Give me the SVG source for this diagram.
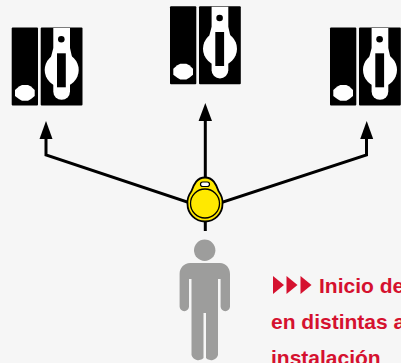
<svg xmlns="http://www.w3.org/2000/svg" width="401" height="363" viewBox="0 0 401 363">
<style>
.k{fill:#000}.w{fill:#fff}
.c{fill:none;stroke:#000;stroke-width:3}
.t{font-family:"Liberation Sans",Arial,sans-serif;font-weight:700;font-size:21px;fill:#d5112f}
.r{fill:#d5112f}
</style>
<defs>
<g id="lock">
<rect class="k" x="11.700" y="27.500" width="26.300" height="78" rx="1"/>
<rect class="k" x="40.700" y="27.500" width="41.800" height="78" rx="1"/>
<path class="w" d="M53.300 28H70V48L72 57H51L53.300 48Z"/>
<circle class="w" cx="61.700" cy="70" r="17"/>
<path class="w" d="M53.300 80H70V91.500A8.350 8.350 0 0 1 53.300 91.500Z"/>
<circle class="k" cx="61.300" cy="39.300" r="3.300"/>
<rect class="k" x="57" y="53.300" width="8.800" height="34"/>
<path class="w" d="M19 86.500L22 85H28L31 86.500L34.700 90V96L31 99L28 100.700H22L19 99L15 96V90Z"/>
</g>
</defs>
<rect width="401" height="363" fill="#f6f6f6"/>
<g id="lock-left"><use href="#lock"/></g>
<g id="lock-center"><use href="#lock" x="158.300" y="-21.300"/></g>
<g id="lock-right"><use href="#lock" x="318.300"/></g>
<g id="connectors">
<path class="c" d="M46 136V155L205 208L366.500 155V136"/>
<path class="c" d="M205.300 118V231"/>
<path class="k" d="M46 121L52.500 139H39.500Z"/>
<path class="k" d="M205.300 103L212 121H198.600Z"/>
<path class="k" d="M366.700 121L373.200 139H360.200Z"/>
</g>
<g id="key">
<path d="M205 177.500C197 177.500 194 184 191.500 191C188 196 187 200 187.500 204A17.500 17.500 0 0 0 222.500 204C223 200 222 196 218.500 191C216 184 213 177.500 205 177.500Z" fill="#ffe900" stroke="#000" stroke-width="1.800"/>
<circle cx="205" cy="203.500" r="14.500" fill="#ffe900" stroke="#000" stroke-width="1.300"/>
<rect x="200.500" y="182" width="9" height="4.500" rx="2.200" fill="#fff" stroke="#000" stroke-width="1.200"/>
</g>
<g id="person" fill="#9d9d9c">
<circle cx="204.700" cy="250.300" r="10.700"/>
<path d="M190 263H220C226 263 230 268 230 274V306.500A4.700 4.700 0 0 1 220.600 306.500V279H218V355A7.200 7.200 0 0 1 206 358V313H203.500V358A7.200 7.200 0 0 1 191.500 355V279H189V306.500A4.700 4.700 0 0 1 179.600 306.500V274C179.600 268 184 263 190 263Z"/>
</g>
<g id="note">
<path class="r" d="M273 276L284 285L273 294Z"/><path class="r" d="M286.500 276L297.500 285L286.500 294Z"/><path class="r" d="M300.500 276L311.500 285L300.500 294Z"/>
<text class="t" x="319" y="293">Inicio de</text>
<text class="t" x="271" y="329">en distintas a</text>
<text class="t" x="271" y="365">instalación</text>
</g>
</svg>
